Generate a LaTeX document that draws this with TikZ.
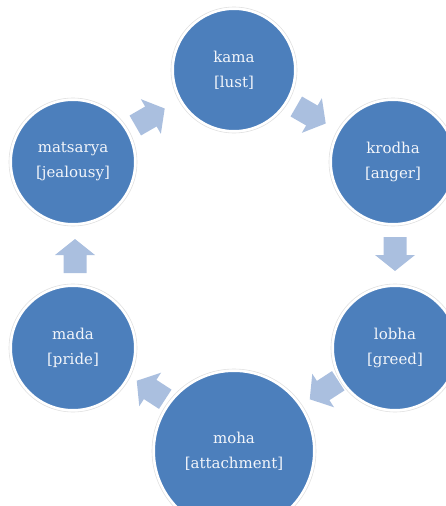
\documentclass[tikz,border=0pt]{standalone}
\usepackage{fontspec}
\setmainfont{DejaVu Serif}
\definecolor{discblue}{RGB}{76,127,188}
\definecolor{arrowblue}{RGB}{170,191,223}
\definecolor{txt}{RGB}{242,245,250}
\begin{document}
\begin{tikzpicture}[x=1pt,y=1pt,
  disc/.style={circle, fill=discblue, draw=white, line width=2pt, inner sep=0pt,
    text=txt, align=center, font=\fontsize{15}{25}\selectfont},
  halo/.style={draw=black!12, line width=0.6pt},
  blockarrow/.pic={\fill[arrowblue] (-17,-11.5) -- (1,-11.5) -- (1,-20) -- (17,0) -- (1,20) -- (1,11.5) -- (-17,11.5) -- cycle;}
]
\useasboundingbox (0,0) rectangle (446,-506);
\clip (0,0) rectangle (446,-506);
% halos
\foreach \p/\r in {{(234,-70)}/63,{(73,-162)}/64,{(393,-162)}/64,{(73,-348)}/64,{(395,-348)}/64,{(234,-451)}/82}
  \draw[halo] \p circle[radius=\r];
\node[disc, minimum size=122] (kama) at (234,-70) {kama\\{[lust]}};
\node[disc, minimum size=124] (krodha) at (393,-162) {krodha\\{[anger]}};
\node[disc, minimum size=124] (lobha) at (395,-348) {lobha\\{[greed]}};
\node[disc, minimum size=160] (moha) at (234,-451) {moha\\{[attachment]}};
\node[disc, minimum size=124] (mada) at (73,-348) {mada\\{[pride]}};
\node[disc, minimum size=124] (matsarya) at (73,-162) {matsarya\\{[jealousy]}};
% arrows
\pic[rotate=30] at (150,-117) {blockarrow};
\pic[rotate=-30] at (311,-115) {blockarrow};
\pic[rotate=-90] at (395,-254) {blockarrow};
\pic[rotate=-147] at (324,-390) {blockarrow};
\pic[rotate=147] at (151,-390) {blockarrow};
\pic[rotate=90] at (75,-256) {blockarrow};
\end{tikzpicture}
\end{document}
